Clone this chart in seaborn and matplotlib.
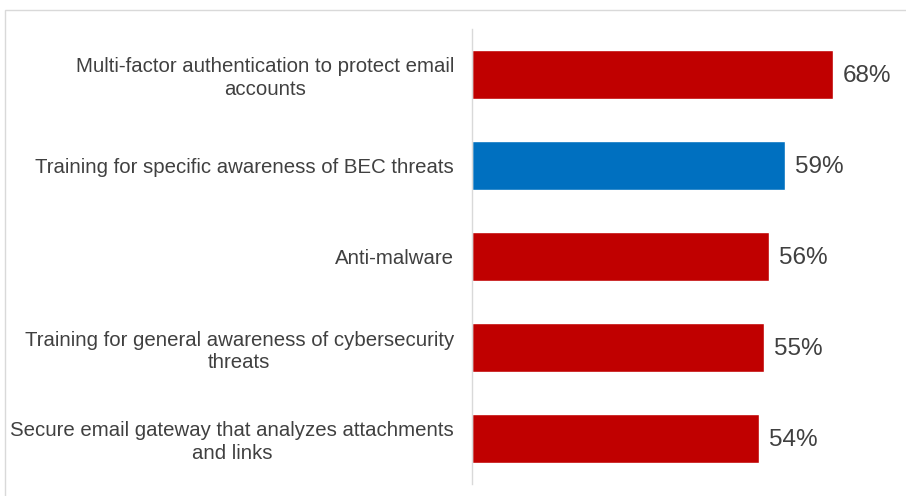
import matplotlib
matplotlib.use("Agg")
import matplotlib.pyplot as plt
import seaborn as sns
import pandas as pd
from matplotlib.patches import Rectangle

categories = [
    "Multi-factor authentication to protect email\naccounts",
    "Training for specific awareness of BEC threats",
    "Anti-malware",
    "Training for general awareness of cybersecurity\nthreats",
    "Secure email gateway that analyzes attachments\nand links",
]
values = [68, 59, 56, 55, 54]
groups = ["other", "bec", "other", "other", "other"]
palette = {"other": "#C00000", "bec": "#0070C0"}

df = pd.DataFrame({"measure": categories, "pct": values, "group": groups})

sns.set_theme(style="white")
plt.rcParams["font.family"] = ["Liberation Sans", "DejaVu Sans"]

fig = plt.figure(figsize=(9.06, 4.96), dpi=100)
ax = fig.add_axes([472 / 906, 1 - 484 / 496, (906 - 472) / 906, (484 - 29) / 496])

sns.barplot(data=df, x="pct", y="measure", hue="group", palette=palette,
            dodge=False, legend=False, width=0.54, ax=ax, saturation=1)

ax.set_xlim(0, (906 - 472) / 5.31)
ax.set_ylim(4.5, -0.5)
ax.set_xlabel("")
ax.set_ylabel("")
ax.set_xticks([])
for s in ["top", "right", "bottom"]:
    ax.spines[s].set_visible(False)
ax.spines["left"].set_color("#D9D9D9")
ax.spines["left"].set_linewidth(1)

ax.tick_params(axis="y", length=0, pad=13, labelsize=14.7, labelcolor="#404040")
for lbl in ax.get_yticklabels():
    lbl.set_multialignment("center")
    lbl.set_linespacing(1.25)

for i, v in enumerate(values):
    ax.text(v + 1.9, i + 0.02, f"{v}%", va="center", ha="left", fontsize=17.5, color="#404040")

# light frame around the figure
fig.patches.append(Rectangle((5 / 906, -0.1), 1.2, 1 - 10 / 496 + 0.1,
                             transform=fig.transFigure, fill=False,
                             edgecolor="#D9D9D9", linewidth=1))

fig.savefig("out.png", dpi=100)
